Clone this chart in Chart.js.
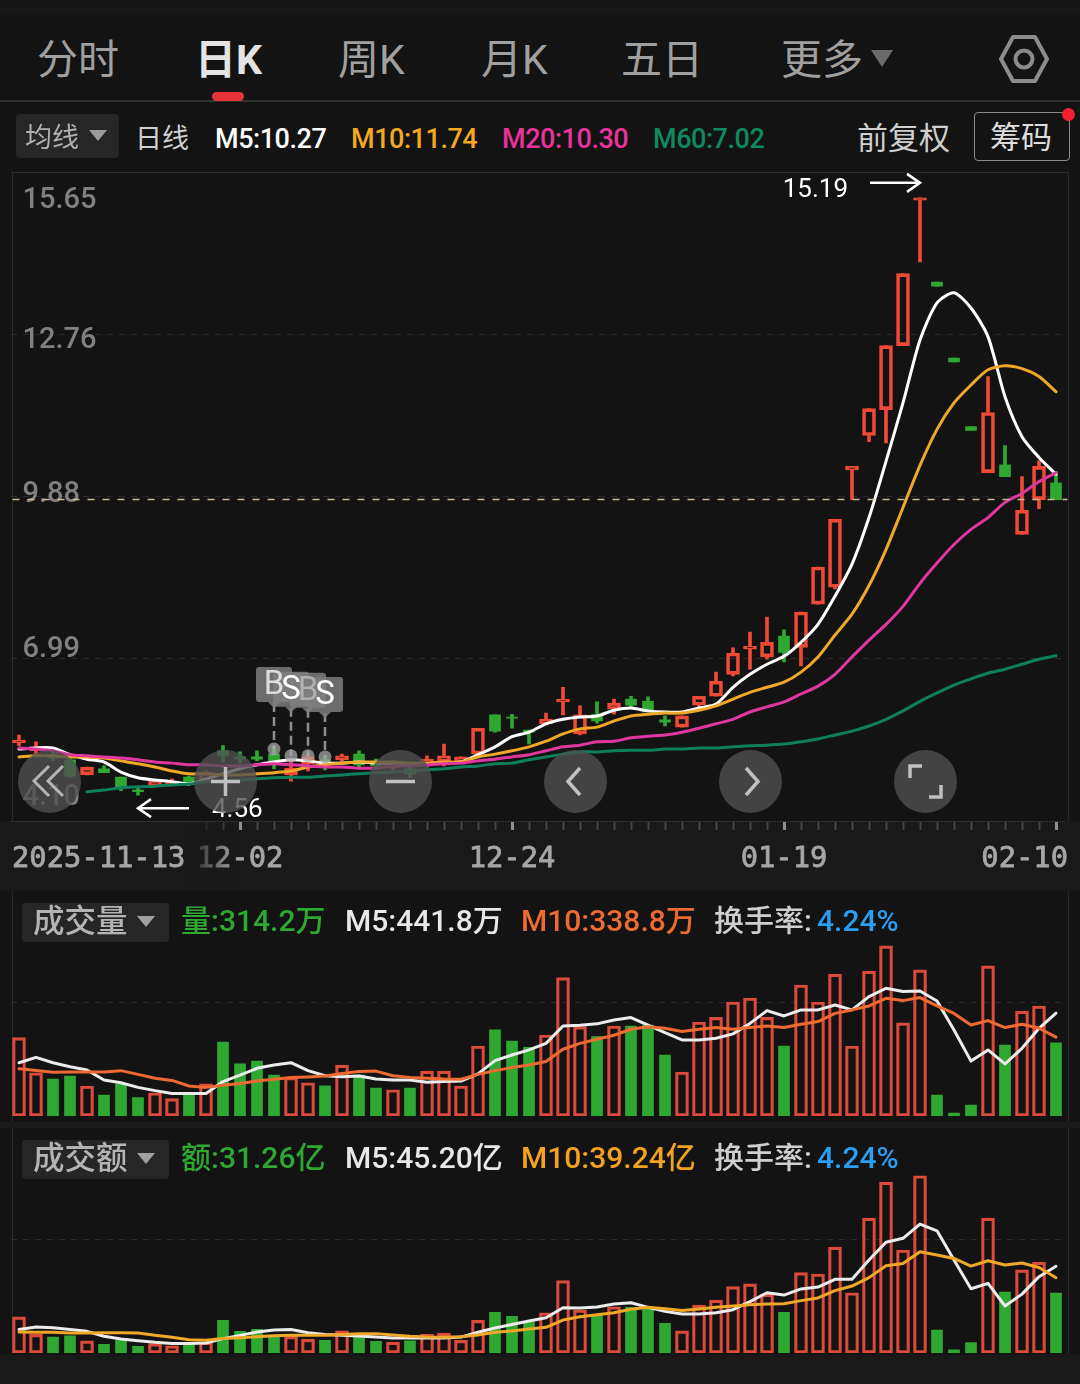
<!DOCTYPE html>
<html lang="zh"><head><meta charset="utf-8">
<script src="https://cdn.jsdelivr.net/npm/chart.js@4/dist/chart.umd.min.js"></script>
<style>
html,body{margin:0;padding:0;background:#131313;width:1080px;height:1384px;overflow:hidden}
body{position:relative;font-family:Roboto,"Noto Sans CJK SC",sans-serif}
.a{position:absolute;white-space:nowrap;line-height:1}
canvas{position:absolute;left:0;z-index:3}
.band{position:absolute;z-index:1}
.tab{font-size:41px;color:#a0a0a0;top:40px;font-weight:400}
.leg{font-size:27px;top:126px;letter-spacing:-.45px;font-weight:500}
.sub{font-size:30px;z-index:4;font-weight:500}
.chip{position:absolute;background:#262626;border-radius:4px;z-index:2}
.tri{position:absolute;width:0;height:0;border-left:9px solid transparent;border-right:9px solid transparent;border-top:11px solid #8a8a8a;z-index:4}
.btn{position:absolute;width:63px;height:63px;border-radius:50%;background:rgba(80,80,80,.8);z-index:6}
.btn svg{position:absolute;left:0;top:0}
</style></head><body>
<div class="band" style="left:0;top:0;width:1080px;height:15px;background:#171717"></div>
<div class="band" style="left:0;top:100px;width:1080px;height:2px;background:#303030"></div>
<div class="band" style="left:12px;top:172px;width:1056px;height:1px;background:#2a2a2a"></div>
<div class="band" style="left:12px;top:172px;width:1px;height:1182px;background:#2a2a2a"></div>
<div class="band" style="left:1068px;top:172px;width:1px;height:1182px;background:#2a2a2a"></div>
<div class="band" style="left:0;top:821px;width:1080px;height:70px;background:#191919"></div>
<div class="band" style="left:0;top:1122px;width:1080px;height:6px;background:#1b1b1b"></div>
<div class="band" style="left:0;top:1355px;width:1080px;height:29px;background:#191919"></div>

<div class="a tab" style="left:37px">分时</div>
<div class="a tab" style="left:195px;color:#e4e4e4;font-weight:700">日K</div>
<div class="a tab" style="left:338px">周K</div>
<div class="a tab" style="left:481px">月K</div>
<div class="a tab" style="left:621px">五日</div>
<div class="a tab" style="left:781px">更多</div>
<div class="tri" style="left:871px;top:50px;border-left-width:11px;border-right-width:11px;border-top:17px solid #6a6a6a"></div>
<div class="band" style="left:212px;top:92px;width:32px;height:9px;background:#e8323a;border-radius:5px"></div>
<svg class="a" style="left:996px;top:30px;z-index:4" width="56" height="60" viewBox="0 0 56 60"><path d="M17 7H39L51 29 39 51H17L5 29Z" fill="none" stroke="#8c8c8c" stroke-width="4" stroke-linejoin="round"/><circle cx="28" cy="29" r="8.5" fill="none" stroke="#8c8c8c" stroke-width="4"/></svg>

<div class="chip" style="left:16px;top:114px;width:103px;height:44px"></div>
<div class="a" style="left:25px;top:125px;font-size:27px;color:#b0b0b0;z-index:4">均线</div>
<div class="tri" style="left:89px;top:130px;border-top-color:#9a9a9a"></div>
<div class="a" style="left:135px;top:126px;font-size:27px;color:#d0d0d0">日线</div>
<div class="a leg" style="left:215px;color:#fff">M5:10.27</div>
<div class="a leg" style="left:351px;color:#f3a91f">M10:11.74</div>
<div class="a leg" style="left:502px;color:#e8339c">M20:10.30</div>
<div class="a leg" style="left:653px;color:#0f8a5f">M60:7.02</div>
<div class="a" style="left:857px;top:123px;font-size:31px;color:#cfcfcf">前复权</div>
<div class="a" style="left:974px;top:112px;width:94px;height:47px;border:1px solid #8a8a8a;border-radius:4px;box-sizing:content-box"></div>
<div class="a" style="left:990px;top:122px;font-size:31px;color:#dedede">筹码</div>
<div class="a" style="left:1062px;top:108px;width:13px;height:13px;border-radius:50%;background:#f02030;z-index:5"></div>

<div class="chip" style="left:22px;top:903px;width:147px;height:39px"></div>
<div class="a sub" style="left:33px;top:906px;font-size:31.5px;color:#b4b4b4">成交量</div>
<div class="tri" style="left:137px;top:916px;border-top-color:#a0a0a0"></div>
<div class="a sub" style="left:181px;top:906px;color:#2fa832">量:314.2万</div>
<div class="a sub" style="left:345px;top:906px;color:#e8e8e8">M5:441.8万</div>
<div class="a sub" style="left:521px;top:906px;color:#ee6a30">M10:338.8万</div>
<div class="a sub" style="left:714px;top:906px;color:#cfcfcf">换手率:</div>
<div class="a sub" style="left:817px;top:906px;color:#2a9df4">4.24%</div>

<div class="chip" style="left:22px;top:1140px;width:147px;height:39px"></div>
<div class="a sub" style="left:33px;top:1143px;font-size:31.5px;color:#b4b4b4">成交额</div>
<div class="tri" style="left:137px;top:1153px;border-top-color:#a0a0a0"></div>
<div class="a sub" style="left:181px;top:1143px;color:#2fa832">额:31.26亿</div>
<div class="a sub" style="left:345px;top:1143px;color:#e8e8e8">M5:45.20亿</div>
<div class="a sub" style="left:521px;top:1143px;color:#f3a21f">M10:39.24亿</div>
<div class="a sub" style="left:714px;top:1143px;color:#cfcfcf">换手率:</div>
<div class="a sub" style="left:817px;top:1143px;color:#2a9df4">4.24%</div>

<canvas id="main" width="1080" height="750" style="top:140px"></canvas>
<canvas id="vol" width="1080" height="200" style="top:930px"></canvas>
<canvas id="amt" width="1080" height="210" style="top:1160px"></canvas>
<div class="band" style="left:186px;top:822px;width:50px;height:66px;z-index:5;background:linear-gradient(90deg,rgba(25,25,25,1),rgba(25,25,25,0))"></div>

<div class="btn" style="left:18px;top:750px"><svg width="63" height="63" fill="none" stroke="#b4b4b4" stroke-width="3"><path d="M31 16 16 31 31 46M45 16 30 31 45 46"/></svg></div>
<div class="btn" style="left:194px;top:750px"><svg width="63" height="63" fill="none" stroke="#c0c0c0" stroke-width="3.5"><path d="M31.5 17V46M17 31.5H46"/></svg></div>
<div class="btn" style="left:369px;top:750px"><svg width="63" height="63" fill="none" stroke="#c0c0c0" stroke-width="3.5"><path d="M17 31.5H46"/></svg></div>
<div class="btn" style="left:544px;top:750px"><svg width="63" height="63" fill="none" stroke="#c0c0c0" stroke-width="3.5"><path d="M36 18 24 31.5 36 45"/></svg></div>
<div class="btn" style="left:719px;top:750px"><svg width="63" height="63" fill="none" stroke="#c0c0c0" stroke-width="3.5"><path d="M27 18 39 31.5 27 45"/></svg></div>
<div class="btn" style="left:894px;top:750px"><svg width="63" height="63" fill="none" stroke="#c0c0c0" stroke-width="3.5"><path d="M16 28V16H28M47 35V47H35"/></svg></div>

<script>
const dates = ['2025-11-13','11-14','11-17','11-18','11-19','11-20','11-21','11-24','11-25','11-26',
 '11-27','11-28','12-01','12-02','12-03','12-04','12-05','12-08','12-09','12-10',
 '12-11','12-12','12-15','12-16','12-17','12-18','12-19','12-22','12-23','12-24',
 '12-25','12-26','12-29','12-30','12-31','01-05','01-06','01-07','01-08','01-09',
 '01-12','01-13','01-14','01-15','01-16','01-19','01-20','01-21','01-22','01-23',
 '01-26','01-27','01-28','01-29','01-30','02-02','02-03','02-04','02-05','02-06',
 '02-09','02-10'];
const shownDates = ['2025-11-13','12-02','12-24','01-19','02-10'];
const priceTicks = [4.10,6.99,9.88,12.76,15.65];

const open = [5.49,5.35,5.28,5.19,4.92,5.03,4.88,4.65,4.74,4.76,
 4.88,4.81,5.35,5.24,5.24,5.29,4.92,5.12,5.19,5.19,
 5.29,5.15,5.04,5.03,5.12,5.17,5.15,5.29,5.99,5.95,
 5.72,5.83,6.22,5.65,6.00,6.09,6.27,6.23,5.90,5.77,
 6.16,6.32,6.71,7.16,7.02,7.39,7.19,7.96,8.26,10.35,
 10.96,11.42,12.56,15.15,13.69,12.34,11.12,10.30,10.44,9.20,
 9.82,10.12];
const close = [5.54,5.42,5.22,4.90,5.06,4.96,4.69,4.62,4.81,4.80,
 4.76,4.97,5.26,5.20,5.20,5.17,5.04,5.24,5.10,5.26,
 5.10,5.08,5.12,4.94,5.20,5.26,5.24,5.75,5.70,5.93,
 5.68,5.91,6.27,5.99,5.88,6.20,6.16,6.04,5.86,5.97,
 6.32,6.59,7.09,7.21,7.28,7.10,7.82,8.62,9.47,10.41,
 11.44,12.56,13.84,15.19,13.62,12.27,11.05,11.37,10.23,9.63,
 10.41,9.82];
const high = [5.63,5.51,5.35,5.24,5.06,5.08,4.88,4.69,4.81,4.85,
 4.90,4.99,5.44,5.33,5.35,5.42,5.17,5.28,5.26,5.29,
 5.35,5.20,5.17,5.06,5.26,5.47,5.24,5.75,5.99,6.00,
 5.72,6.02,6.48,6.15,6.22,6.27,6.32,6.31,5.97,5.97,
 6.32,6.75,7.18,7.46,7.73,7.50,7.82,8.62,9.47,10.41,
 11.44,12.56,13.84,15.19,13.69,12.34,11.12,12.01,10.78,10.23,
 10.51,10.32];
const low = [5.44,5.28,5.17,4.88,4.92,4.96,4.64,4.56,4.74,4.76,
 4.74,4.80,5.15,5.13,5.17,5.03,4.81,4.99,5.01,5.17,
 5.06,5.03,5.01,4.87,5.06,5.08,5.12,5.26,5.68,5.75,
 5.47,5.81,5.99,5.63,5.84,6.00,6.13,6.04,5.79,5.77,
 6.11,6.32,6.68,6.80,6.98,6.93,6.86,7.96,8.23,9.82,
 10.85,10.83,12.56,14.05,13.62,12.27,11.05,10.30,10.23,9.20,
 9.66,9.82];

const m5 = [5.38,5.40,5.40,5.28,5.20,5.15,4.97,4.87,4.83,4.80,
 4.76,4.85,4.94,5.03,5.10,5.15,5.19,5.17,5.13,5.13,
 5.15,5.13,5.13,5.12,5.12,5.13,5.15,5.28,5.42,5.60,
 5.68,5.83,5.91,5.95,5.97,6.07,6.11,6.06,6.04,6.04,
 6.11,6.18,6.48,6.71,6.89,7.03,7.28,7.60,8.10,8.67,
 9.50,10.50,11.54,12.66,13.32,13.50,13.23,12.72,11.65,10.94,
 10.57,10.27];
const m10 = [5.24,5.26,5.26,5.24,5.24,5.22,5.17,5.12,5.06,4.99,
 4.94,4.94,4.92,4.92,4.94,4.96,4.99,5.06,5.10,5.13,
 5.15,5.15,5.15,5.13,5.13,5.15,5.15,5.24,5.29,5.35,
 5.42,5.52,5.65,5.74,5.77,5.88,5.97,6.00,6.02,6.02,
 6.07,6.15,6.27,6.39,6.48,6.57,6.75,7.02,7.41,7.78,
 8.29,8.93,9.68,10.43,11.07,11.54,11.86,12.13,12.20,12.15,
 12.01,11.74];
const m20 = [5.40,5.38,5.35,5.28,5.26,5.24,5.22,5.19,5.15,5.13,
 5.10,5.10,5.08,5.08,5.10,5.12,5.10,5.08,5.06,5.06,
 5.04,5.04,5.08,5.08,5.10,5.12,5.13,5.17,5.20,5.24,
 5.28,5.35,5.42,5.45,5.51,5.52,5.58,5.61,5.63,5.68,
 5.75,5.83,5.91,6.04,6.13,6.22,6.36,6.50,6.71,7.02,
 7.32,7.60,7.92,8.33,8.69,9.02,9.29,9.50,9.77,9.93,
 10.14,10.30];
const m60 = [null,null,null,null,4.62,4.65,4.69,4.71,4.72,4.74,
 4.76,4.80,4.81,4.83,4.85,4.87,4.88,4.88,4.90,4.92,
 4.94,4.96,4.97,4.99,5.01,5.03,5.06,5.08,5.12,5.13,
 5.19,5.24,5.29,5.33,5.33,5.35,5.36,5.36,5.38,5.38,
 5.40,5.40,5.42,5.44,5.45,5.47,5.51,5.56,5.63,5.70,
 5.79,5.91,6.06,6.23,6.38,6.52,6.63,6.73,6.80,6.89,
 6.98,7.04];

const volume = [337,186,159,172,129,90,138,79,100,75,
 90,138,318,224,236,176,166,143,130,219,
 176,120,113,120,193,193,129,301,370,322,
 295,348,595,384,341,387,387,391,262,189,
 404,424,490,507,424,301,563,490,610,301,
 623,731,400,628,90,13,47,645,305,451,
 473,314.2];
const volM5 = [229,252,229,212,198,155,143,123,109,97,
 97,97,148,176,205,219,229,195,173,169,
 172,159,155,155,145,148,150,181,238,262,
 284,312,387,390,396,413,423,391,358,327,
 327,334,353,398,453,430,456,456,477,456,
 513,549,535,537,494,370,236,284,224,291,
 377,441.8];
const volM10 = [203,196,188,189,189,189,195,179,162,153,
 129,123,132,140,150,158,165,168,172,183,
 191,193,173,166,162,159,158,179,195,208,
 219,234,287,312,330,347,373,384,377,363,
 373,380,373,380,387,380,394,406,441,456,
 473,506,496,509,473,441,391,410,380,394,
 377,338.8];

const amount = [18.8,9.7,8.3,8.9,6.3,4.5,6.9,3.5,4.9,3.8,
 4.9,5.7,17.0,11.3,12.3,9.2,8.7,7.1,6.6,11.5,
 8.7,6.1,5.7,6.3,9.7,10.4,6.6,17.0,21.2,19.1,
 16.2,21.0,37.7,22.4,19.8,24.1,23.8,23.3,15.5,11.5,
 25.0,27.6,34.6,36.0,30.7,21.2,41.9,41.2,55.2,31.4,
 70.3,89.1,53.7,92.4,12.0,1.6,5.4,70.3,31.8,43.3,
 47.4,31.26];
const amtM5 = [12.3,13.5,13.2,12.2,11.3,8.7,7.3,6.4,5.6,5.0,
 5.0,5.2,7.5,9.2,10.9,12.0,12.2,10.6,9.7,9.2,
 8.9,8.3,7.8,7.8,7.8,7.8,8.3,10.8,13.0,14.9,
 16.7,18.4,23.6,23.4,24.0,25.5,26.2,23.8,21.7,20.3,
 20.3,21.0,22.6,26.8,31.4,30.2,33.4,34.4,38.4,38.4,
 48.5,57.7,59.8,67.2,63.7,48.5,33.5,36.3,24.5,30.7,
 39.8,45.20];
const amtM10 = [10.9,10.8,10.8,10.4,10.4,10.6,10.6,10.4,9.2,8.2,
 6.9,6.6,7.5,8.0,8.5,9.0,9.2,9.2,9.2,9.7,
 10.1,10.1,9.4,8.7,8.3,8.2,8.5,9.4,10.8,11.5,
 12.5,13.4,17.2,18.9,20.0,21.0,22.8,23.8,23.1,22.1,
 22.9,23.8,24.5,25.2,25.5,25.7,27.3,28.7,32.5,34.9,
 39.3,45.5,46.7,52.8,51.1,49.3,45.3,48.1,45.9,46.9,
 44.6,39.24];

const tradeMarks = ['B','S','B','S'];
const tradeIndex = [15,16,17,18];
const tradePrice = [5.38,5.26,5.26,5.24];
const lastPrice = 9.82;
const highMark = 15.19, highIndex = 53;
const lowMark = 4.56, lowIndex = 7;

const RED='#ef4a36', GREEN='#2fa832';
const isUp = i => close[i] >= open[i];
const bodyLo = i => Math.min(open[i],close[i]);
const bodyHi = i => Math.max(open[i],close[i]);
const barBase = {type:'bar',grouped:false,categoryPercentage:1,barPercentage:1,order:10};
const lineDs = (data,color,order,tension,width) => ({type:'line',data,borderColor:color,borderWidth:width||3,pointRadius:0,tension:tension||0,order,spanGaps:false,fill:false,borderJoinStyle:'round',borderCapStyle:'round'});

const candleDatasets = [
 {...barBase,data:dates.map((d,i)=>[bodyHi(i),high[i]]),barThickness:3,backgroundColor:dates.map((d,i)=>isUp(i)?RED:GREEN),borderWidth:0},
 {...barBase,data:dates.map((d,i)=>[low[i],bodyLo(i)]),barThickness:3,backgroundColor:dates.map((d,i)=>isUp(i)?RED:GREEN),borderWidth:0},
 {...barBase,data:dates.map((d,i)=>isUp(i)?[bodyLo(i),bodyHi(i)]:null),barThickness:13,backgroundColor:'rgba(0,0,0,0)',borderColor:RED,borderWidth:3,borderSkipped:false},
 {...barBase,data:dates.map((d,i)=>isUp(i)?null:[bodyLo(i),bodyHi(i)]),barThickness:11,backgroundColor:GREEN,borderWidth:0},
 lineDs(m5,'#ffffff',4,0.25),
 lineDs(m10,'#f0a828',3,0.25),
 lineDs(m20,'#e0379f',2,0.25),
 lineDs(m60,'#0e7f5c',1,0.25)
];
const volumeDatasets = (vals,a,b) => [
 {...barBase,data:vals.map((v,i)=>isUp(i)?v:null),barThickness:13,backgroundColor:'rgba(0,0,0,0)',borderColor:'#dc4a3c',borderWidth:2.5,borderSkipped:false},
 {...barBase,data:vals.map((v,i)=>isUp(i)?null:v),barThickness:11,backgroundColor:GREEN,borderWidth:0},
 lineDs(a,'#ececec',2),
 lineDs(b[0],b[1],1)
];

const grid = {color:'#2b2b2b',lineWidth:1,drawTicks:false};
const common = {responsive:false,animation:false,devicePixelRatio:1,
 plugins:{legend:{display:false},tooltip:{enabled:false}},events:[]};
const noWidth = s => { s.width = 0; };

const labelShift = {id:'labelShift',beforeDraw(c){
 const yOff = {'15.65':29,'12.76':6,'9.88':-1,'6.99':-9,'4.10':-23};
 c.scales.y.getLabelItems().forEach(it=>{ if(!it._moved && yOff[it.label]!==undefined){it.options.translation[1]+=yOff[it.label];it._moved=1;} });
 const xs=c.scales.x.getLabelItems();
 xs.forEach(it=>{ if(it._moved) return;
  if(it.label==='2025-11-13'){it.options.textAlign='left';it.options.translation[0]=12;it._moved=1;}
  if(it.label==='02-10'){it.options.textAlign='right';it.options.translation[0]=1068;it._moved=1;}
 });
}};
const tagRise = [82,84,83,80];
const tagTextColor = ['rgba(240,240,240,.85)','#ffffff','rgba(190,190,190,.8)','#ffffff'];
const annotations = {id:'annotations',afterDatasetsDraw(c){
 const g=c.ctx,x=c.scales.x,y=c.scales.y;
 g.save();
 g.strokeStyle='#cdbb90';g.lineWidth=1.5;g.setLineDash([7,8]);
 g.beginPath();g.moveTo(c.chartArea.left+2,y.getPixelForValue(lastPrice));g.lineTo(c.chartArea.right+3,y.getPixelForValue(lastPrice));g.stroke();
 g.setLineDash([]);
 tradeMarks.forEach((t,k)=>{
  const px=x.getPixelForValue(tradeIndex[k]),py=y.getPixelForValue(tradePrice[k]);
  const top=py-tagRise[k];
  g.strokeStyle='rgba(165,165,165,.85)';g.lineWidth=2.5;g.setLineDash([9,5]);
  g.beginPath();g.moveTo(px,top+36);g.lineTo(px,py);g.stroke();g.setLineDash([]);
  g.fillStyle='rgba(170,170,170,.72)';g.beginPath();g.arc(px,py,6.5,0,Math.PI*2);g.fill();
 });
 tradeMarks.forEach((t,k)=>{
  const px=x.getPixelForValue(tradeIndex[k]),py=y.getPixelForValue(tradePrice[k]);
  const top=py-tagRise[k];
  g.fillStyle='rgba(128,128,128,.82)';
  g.beginPath();g.roundRect(px-18,top,36,35,3);g.fill();
  g.beginPath();g.moveTo(px-6,top+35);g.lineTo(px,top+41);g.lineTo(px+6,top+35);g.closePath();g.fill();
 });
 tradeMarks.forEach((t,k)=>{
  const px=x.getPixelForValue(tradeIndex[k]),py=y.getPixelForValue(tradePrice[k]);
  const top=py-tagRise[k];
  g.fillStyle=tagTextColor[k];g.font='33px Roboto';g.textAlign='center';g.textBaseline='middle';
  g.fillText(t,px,top+19);
 });
 g.strokeStyle='#fff';g.fillStyle='#fff';g.lineWidth=2.5;g.font='26px Roboto';g.textBaseline='middle';
 const hx=x.getPixelForValue(highIndex),hy=y.getPixelForValue(highMark)-15;
 g.beginPath();g.moveTo(hx-50,hy);g.lineTo(hx,hy);g.moveTo(hx-13,hy-9);g.lineTo(hx,hy);g.lineTo(hx-13,hy+9);g.stroke();
 g.textAlign='right';g.fillText(highMark.toFixed(2),hx-72,hy+8);
 const lx=x.getPixelForValue(lowIndex),ly=y.getPixelForValue(lowMark)+13;
 g.beginPath();g.moveTo(lx+51,ly);g.lineTo(lx,ly);g.moveTo(lx+13,ly-9);g.lineTo(lx,ly);g.lineTo(lx+13,ly+9);g.stroke();
 g.textAlign='left';g.fillText(lowMark.toFixed(2),lx+74,ly+2);
 g.restore();
}};

new Chart(document.getElementById('main'),{
 data:{labels:dates,datasets:candleDatasets},
 plugins:[labelShift,annotations],
 options:{...common,
  layout:{padding:{left:10.5,right:15.5,top:32,bottom:0}},
  scales:{
   x:{type:'category',offset:true,afterFit:s=>{s.height=69;},
    grid:{offset:false,drawOnChartArea:false,drawTicks:true,tickLength:9,
     tickColor:c=>{const i=c.index; if(i<11) return 'rgba(0,0,0,0)'; return shownDates.includes(dates[i])?'#8f8f8f':'#454545';},
     tickWidth:c=>shownDates.includes(dates[c.index])?3:2},
    border:{color:'#2e2e2e',width:1},
    ticks:{autoSkip:false,maxRotation:0,minRotation:0,align:'inner',padding:12,color:'#a6a6a6',textStrokeColor:'#a6a6a6',textStrokeWidth:0.8,
     font:{family:'"DejaVu Sans Mono"',size:28.8},
     callback:function(v,i){const l=dates[i];return shownDates.includes(l)?l:'';}}},
   y:{type:'linear',min:4.10,max:15.65,position:'left',afterFit:noWidth,
    afterBuildTicks:s=>{s.ticks=priceTicks.map(value=>({value}));},
    grid,border:{display:false,dash:[6,6]},
    ticks:{mirror:true,padding:12,color:'#808080',font:{family:'Roboto',size:29,weight:'500'},callback:v=>v.toFixed(2)}}
  }}
});

const subChart=(id,vals,a,b,max,gridAt,top,bottom)=>new Chart(document.getElementById(id),{
 data:{labels:dates,datasets:volumeDatasets(vals,a,b)},
 options:{...common,
  layout:{padding:{left:10.5,right:15.5,top,bottom}},
  scales:{
   x:{type:'category',offset:true,display:false},
   y:{type:'linear',min:0,max,position:'left',afterFit:noWidth,
    afterBuildTicks:s=>{s.ticks=[{value:gridAt}];},
    grid,border:{display:false,dash:[6,6]},ticks:{display:false}}
  }}
});
subChart('vol',volume,volM5,[volM10,'#ee6a30'],735,490,15,14);
subChart('amt',amount,amtM5,[amtM10,'#f0a828'],92.8,59.4,15,17);
</script>
</body></html>
